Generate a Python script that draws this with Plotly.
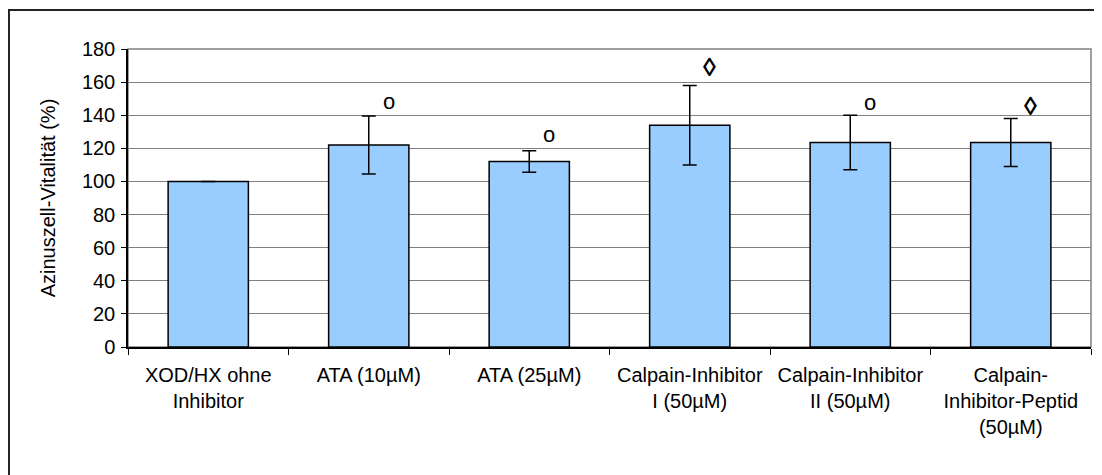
import plotly.graph_objects as go

categories = [
    "XOD/HX ohne<br>Inhibitor",
    "ATA (10µM)",
    "ATA (25µM)",
    "Calpain-Inhibitor<br>I (50µM)",
    "Calpain-Inhibitor<br>II (50µM)",
    "Calpain-<br>Inhibitor-Peptid<br>(50µM)",
]
values = [100, 122, 112, 134, 123.5, 123.5]
errors = [0, 17.5, 6.5, 24, 16.5, 14.5]
sig_symbols = ["", "o", "o", "◊", "o", "◊"]
sig_y = [None, 148, 128.3, 169, 147.8, 145.5]
y_ticks = [0, 20, 40, 60, 80, 100, 120, 140, 160, 180]

FONT = "Liberation Sans, Arial, sans-serif"

fig = go.Figure()
fig.add_trace(go.Bar(
    x=categories, y=values,
    marker=dict(color="#99ccff", line=dict(color="black", width=1.5)),
    error_y=dict(type="data", array=errors, visible=True, color="black",
                 thickness=1.5, width=7),
    showlegend=False,
))

annotations = []
for cat, sym, yy in zip(categories, sig_symbols, sig_y):
    if sym:
        annotations.append(dict(
            x=cat, y=yy, xref="x", yref="y",
            text=("<b>%s</b>" % sym) if sym == "◊" else sym,
            showarrow=False, xshift=20, yanchor="middle", xanchor="center",
            font=dict(family=FONT, size=26 if sym == "◊" else 22, color="black"),
        ))

fig.update_layout(
    width=1094, height=467,
    margin=dict(l=120, r=11, t=41, b=128),
    paper_bgcolor="white", plot_bgcolor="white",
    bargap=0.5,
    font=dict(family=FONT, size=20, color="black"),
    annotations=annotations,
    shapes=[
        dict(type="rect", xref="paper", yref="paper", x0=0, x1=1, y0=0, y1=1,
             line=dict(color="#808080", width=1.5), layer="below"),
        dict(type="rect", xref="paper", yref="paper", x0=-0.1236, x1=1.2, y0=-0.6, y1=1.1309,
             line=dict(color="#222222", width=2), layer="below"),
    ],
)
fig.update_xaxes(
    type="category", showline=True, linecolor="black", linewidth=1.5,
    ticks="outside", ticklen=6, tickcolor="black", tickwidth=1, tickson="boundaries",
    showgrid=False, tickfont=dict(size=20), automargin=False, ticklabelstandoff=9,
)
fig.update_yaxes(
    range=[0, 180], tickvals=y_ticks, showline=True, linecolor="black", linewidth=1.5,
    ticks="outside", ticklen=5, tickcolor="black", tickwidth=1,
    showgrid=True, gridcolor="#808080", gridwidth=1, zeroline=False,
    tickfont=dict(size=20), automargin=False, ticklabelstandoff=2,
    title=dict(text="Azinuszell-Vitalität (%)", font=dict(size=20), standoff=21),
)
fig.write_html("out.html")
